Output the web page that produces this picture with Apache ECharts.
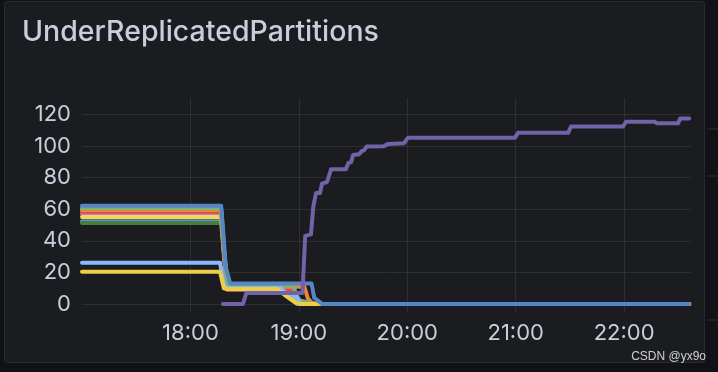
<!DOCTYPE html>
<html>
<head>
<meta charset="utf-8">
<script src="https://cdn.jsdelivr.net/npm/echarts@6/dist/echarts.min.js"></script>
<style>
  html, body { margin: 0; padding: 0; background: #111217; width: 718px; height: 372px; overflow: hidden; }
  #panel { position: absolute; left: 4px; top: 1px; width: 699px; height: 360px; background: #1b1c20; border: 1px solid #2a2b30; border-radius: 3px; }
  #chart { position: absolute; left: 0; top: 0; width: 718px; height: 372px; }
</style>
</head>
<body>
<div id="panel"></div>
<div id="chart"></div>
<script>
// Time values are minutes after 17:00
const titleText = 'UnderReplicatedPartitions';
const xTickMinutes = [60, 120, 180, 240, 300];
const xTickLabels = ['18:00', '19:00', '20:00', '21:00', '22:00'];
const yTickValues = [0, 20, 40, 60, 80, 100, 120];

const seriesThinBlue = [[0, 52.3], [77, 52.3], [78.6, 30], [80.5, 9], [114, 9], [119, 0], [336, 0]];
const seriesDarkGreen = [[0, 51.2], [77, 51.2], [78.6, 30], [80.5, 9.5], [116, 9.5], [121, 2], [127, 0.5], [130, 0], [336, 0]];
const seriesMagenta = [[0, 57], [77, 57], [78.6, 32], [80.5, 9.5], [115, 9.5], [119, 1], [122, 0], [336, 0]];
const seriesYellow = [[0, 55], [77, 55], [78.6, 31], [80.5, 10.5], [110, 10.5], [114, 7], [120, 2], [125, 1], [130, 0], [336, 0]];
const seriesRed = [[0, 58.2], [77, 58.2], [78.6, 33], [80.5, 9], [116, 9], [120, 2], [124, 0], [336, 0]];
const seriesOrange = [[0, 59.3], [77, 59.3], [78.6, 34], [80.5, 11], [123, 11], [125, 3.5], [128, 0], [336, 0]];
const seriesGreen = [[0, 60.5], [77, 60.5], [78.6, 35], [80.5, 11.5], [117, 11.5], [119.5, 2], [126, 1], [129, 0], [336, 0]];
const seriesLightBlue = [[0, 26], [76.4, 26], [78.5, 12], [80, 10], [110, 10], [114, 5.5], [119, 4.5], [121, 0], [336, 0]];
const seriesYellow2 = [[0, 20.4], [76.4, 20.4], [78.5, 10], [80, 9.5], [108, 9.5], [113, 5], [118, 1], [121, 0], [336, 0]];
const seriesBlue = [[0, 62], [77, 62], [78.2, 45], [79.5, 23.6], [82, 13], [127, 13], [128.5, 4], [133, 0], [336, 0]];
const seriesViolet = [[78, 0], [89, 0], [91, 7], [122, 7], [123.5, 43], [126.7, 44], [128, 61.5], [129.5, 70],
  [131.7, 70], [132.8, 76], [135.6, 77], [137.8, 85], [146, 85], [147.4, 89], [148.9, 89.5], [150, 94],
  [153.3, 94.5], [154.8, 96.5], [156, 97], [157.6, 99.4], [167, 99.5], [169.3, 101], [178.2, 101.5], [180.4, 105],
  [239.6, 105], [241.3, 108], [269, 108], [270.6, 112], [299.4, 112], [301, 115], [317, 115], [318.2, 114],
  [329.8, 114], [331, 117], [336, 117]];

const seriesDefs = [
  ['thin-blue', '#5b8fd6', seriesThinBlue],
  ['dark-green', '#4a7f3a', seriesDarkGreen],
  ['magenta', '#b877d9', seriesMagenta],
  ['yellow', '#f2d94e', seriesYellow],
  ['red', '#e24d42', seriesRed],
  ['orange', '#ef843c', seriesOrange],
  ['green', '#7eb26d', seriesGreen],
  ['light-blue', '#8ab8ff', seriesLightBlue],
  ['yellow-2', '#edce46', seriesYellow2],
  ['blue', '#5786c7', seriesBlue],
  ['violet', '#7262a8', seriesViolet]
];

const textColor = '#ccccdc';
const gridColor = 'rgba(204,204,220,0.1)';
const font = 'Inter';

const chart = echarts.init(document.getElementById('chart'), null, { renderer: 'canvas' });
chart.setOption({
  backgroundColor: 'transparent',
  animation: false,
  title: {
    text: titleText, left: 22, top: 18, padding: 0,
    textStyle: { color: textColor, fontFamily: font, fontSize: 28.5, fontWeight: 500 }
  },
  grid: [
    { left: 82, right: 27, top: 98, bottom: 60 },
    { left: 82, right: 27, top: 114.3, bottom: 68 }
  ],
  xAxis: [
    {
      type: 'value', gridIndex: 0, min: 0, max: 337, interval: 60,
      axisLine: { show: false }, axisTick: { show: false },
      axisLabel: {
        color: textColor, fontFamily: font, fontSize: 22, margin: 10,
        showMinLabel: false, showMaxLabel: false,
        formatter: v => { const i = xTickMinutes.indexOf(v); return i >= 0 ? xTickLabels[i] : ''; }
      },
      splitLine: { show: true, showMinLine: false, showMaxLine: false, lineStyle: { color: gridColor, width: 1 } }
    },
    { type: 'value', gridIndex: 1, min: 0, max: 337, show: false }
  ],
  yAxis: [
    { type: 'value', gridIndex: 0, min: -5, max: 130, show: false, splitLine: { show: false } },
    {
      type: 'value', gridIndex: 1, min: 0, max: 120, interval: 20,
      axisLine: { show: false }, axisTick: { show: false },
      axisLabel: { color: textColor, fontFamily: font, fontSize: 22, margin: 11,
        formatter: v => (yTickValues.indexOf(v) >= 0 ? String(v) : '') },
      splitLine: { show: true, lineStyle: { color: gridColor, width: 1 } }
    }
  ],
  graphic: [
    { type: 'text', right: 12, top: 351, style: { text: 'CSDN @yx9o', fill: 'rgba(235,235,240,0.85)', font: '12px "Liberation Sans"' } },
    { type: 'line', shape: { x1: 707, y1: 129, x2: 718, y2: 129 }, style: { stroke: '#2e2f33', lineWidth: 1 } },
    { type: 'line', shape: { x1: 707, y1: 176, x2: 718, y2: 176 }, style: { stroke: '#2e2f33', lineWidth: 1 } },
    { type: 'line', shape: { x1: 707, y1: 320, x2: 718, y2: 320 }, style: { stroke: '#2e2f33', lineWidth: 1 } }
  ],
  series: seriesDefs.map(([name, color, data]) => ({
    name, type: 'line', xAxisIndex: 0, yAxisIndex: 0, data,
    showSymbol: false, symbol: 'none',
    lineStyle: { color, width: 4, join: 'round', cap: 'round' },
    itemStyle: { color }
  }))
});
</script>
</body>
</html>
